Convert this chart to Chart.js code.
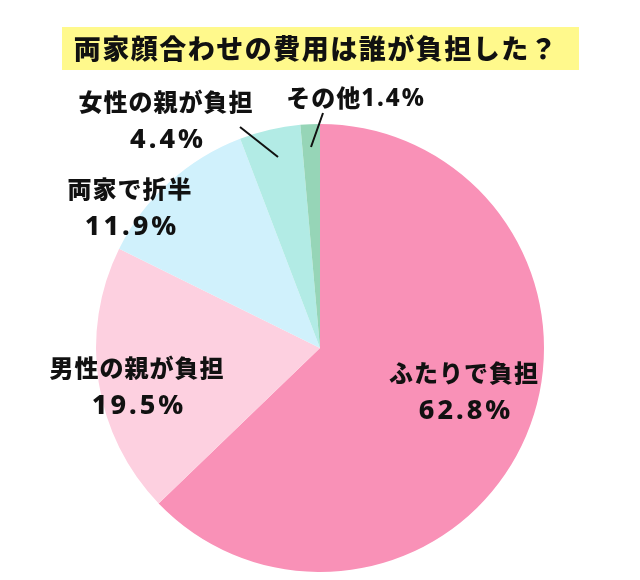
<!DOCTYPE html>
<html>
<head>
<meta charset="utf-8">
<script src="https://cdn.jsdelivr.net/npm/chart.js@4"></script>
<style>
  html, body { margin: 0; padding: 0; background: #ffffff; }
  #wrap { position: relative; width: 640px; height: 580px; }
</style>
</head>
<body>
<div id="wrap"><canvas id="chart"></canvas></div>
<script>
// Chart data.
const title = '両家顔合わせの費用は誰が負担した？';
const categories = ['ふたりで負担', '男性の親が負担', '両家で折半', '女性の親が負担', 'その他'];
const shares = [62.8, 19.5, 11.9, 4.4, 1.4];
const sliceColors = ['#F991B7', '#FDD0E0', '#D0F1FC', '#B2EBE5', '#96D5B7'];

// Where each label sits (text centre, px) and optional leader line.
const labelLayout = [
    { x: 464, y: 373, lines: 2 },
    { x: 137, y: 368, lines: 2 },
    { x: 130, y: 189, lines: 2 },
    { x: 166, y: 102, lines: 2, leader: [240, 127, 278, 157] },
    { x: 356, y: 98, lines: 1, leader: [323, 113, 311, 147] }
];

const JP_FONT = '"Noto Sans CJK JP", "Noto Sans", sans-serif';
const NUM_FONT = '"Noto Sans", "Liberation Sans", sans-serif';

/**
 * Draws the title box and the slice labels on top of the pie.
 */
const labelPlugin = {
    id: 'labels',
    afterDraw( chart ) {
        const ctx = chart.ctx;
        ctx.save();
        // Title on a yellow band.
        ctx.fillStyle = '#FFF98C';
        ctx.fillRect( 62, 27, 517, 43 );
        ctx.fillStyle = '#111111';
        ctx.font = '900 27px ' + JP_FONT;
        ctx.letterSpacing = '1.5px';
        ctx.textAlign = 'center';
        ctx.textBaseline = 'middle';
        ctx.fillText( title, 316, 49 );

        // Slice labels.
        labelLayout.forEach( ( pos, i ) => {
            const pct = shares[i].toFixed( 1 ) + '%';
            ctx.font = '900 24px ' + JP_FONT;
            ctx.letterSpacing = '1px';
            if ( pos.lines === 2 ) {
                ctx.fillText( categories[i], pos.x, pos.y );
                ctx.font = '800 27px ' + NUM_FONT;
                ctx.letterSpacing = '3px';
                ctx.fillText( pct, pos.x + 2, pos.y + 38 );
            } else {
                const nameW = ctx.measureText( categories[i] ).width;
                ctx.font = '800 24px ' + NUM_FONT;
                ctx.letterSpacing = '2px';
                const pctW = ctx.measureText( pct ).width;
                const left = pos.x - ( nameW + pctW ) / 2;
                ctx.textAlign = 'left';
                ctx.font = '900 24px ' + JP_FONT;
                ctx.letterSpacing = '1px';
                ctx.fillText( categories[i], left, pos.y );
                ctx.font = '800 24px ' + NUM_FONT;
                ctx.letterSpacing = '2px';
                ctx.fillText( pct, left + nameW, pos.y + 1 );
                ctx.textAlign = 'center';
            }
            if ( pos.leader ) {
                ctx.strokeStyle = '#111111';
                ctx.lineWidth = 2;
                ctx.beginPath();
                ctx.moveTo( pos.leader[0], pos.leader[1] );
                ctx.lineTo( pos.leader[2], pos.leader[3] );
                ctx.stroke();
            }
        } );
        ctx.restore();
    }
};

new Chart( document.getElementById( 'chart' ), {
    type: 'pie',
    data: {
        labels: categories,
        datasets: [{
            data: shares,
            backgroundColor: sliceColors,
            borderColor: '#ffffff',
            borderWidth: 0
        }]
    },
    options: {
        responsive: true,
        maintainAspectRatio: false,
        animation: false,
        layout: { padding: { top: 124, bottom: 8, left: 0, right: 0 } },
        plugins: {
            legend: { display: false },
            tooltip: { enabled: false }
        }
    },
    plugins: [labelPlugin]
});
</script>
</body>
</html>
